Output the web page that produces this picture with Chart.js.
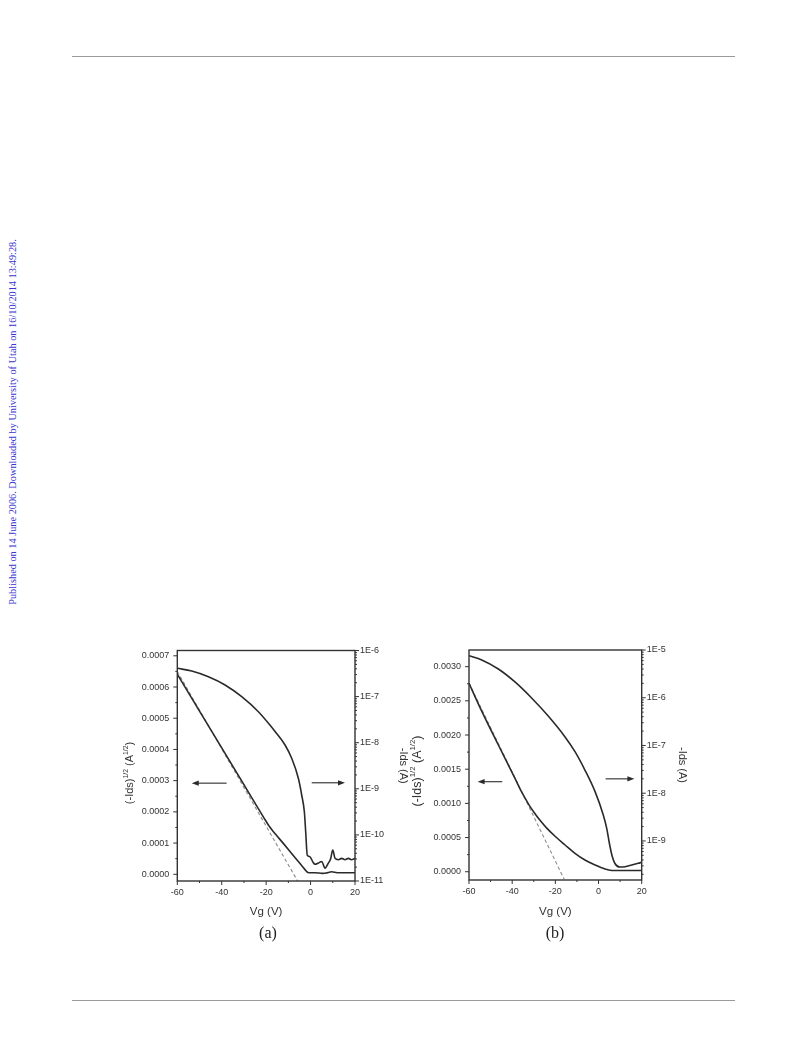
<!DOCTYPE html>
<html><head><meta charset="utf-8">
<script src="https://cdn.jsdelivr.net/npm/chart.js@4/dist/chart.umd.min.js"></script>
<style>
body{margin:0;width:793px;height:1039px;background:#fff;position:relative;overflow:hidden;font-family:'Liberation Sans',Arial,sans-serif}
.rule{position:absolute;left:72px;width:663px;height:1px;background:#9a9a9a}
.side{position:absolute;left:12px;top:422px;transform:translate(-50%,-50%) rotate(-90deg);white-space:nowrap;font-family:'Liberation Serif','Times New Roman',serif;font-size:10.3px;color:#3535cf}
.cap{position:absolute;transform:translate(-50%,-50%);font-family:'Liberation Serif','Times New Roman',serif;font-size:16px;color:#222;white-space:nowrap}
canvas{position:absolute}
</style></head><body>
<div class="rule" style="top:56px"></div>
<div class="rule" style="top:1000px"></div>
<div class="side">Published on 14 June 2006. Downloaded by University of Utah on 16/10/2014 13:49:28.</div>
<canvas id="cA" width="320" height="285" style="left:95px;top:640px"></canvas>
<canvas id="cB" width="300" height="285" style="left:400px;top:640px"></canvas>
<div class="cap" style="left:268px;top:933px">(a)</div>
<div class="cap" style="left:555px;top:933px">(b)</div>
<script>
// ---------- Chart (a) data ----------
const vgLowerA = [-60,-50,-40,-30,-24,-21,-19,-17,-15,-12,-9,-6,-3.5,-2,-1.2,0,2,4,5.6,7,9.5,12,15,18,20];
const sqrtIdsA = [0.000641,0.000523,0.000405,0.000287,0.000216,0.000181,0.000158,0.000139,0.000122,0.0000966,0.0000708,0.000045,0.0000235,0.0000106,0.000006,0.000005,0.000005,0.000004,0.000003,0.000004,0.000008,0.000005,0.000005,0.000005,0.000005];
const vgFitA = [-60,-5.5];
const fitA = [0.000650,-0.0000256];
const vgUpperA = [-60,-53.5,-46,-38.5,-31,-23.5,-18.3,-16,-11.5,-8.5,-5.5,-4,-2.8,-2.2,-1.5,-0.3,1,2,3.5,5,6.5,8,9,10,11,12.5,14,15.5,17,18.4,20];
const idsA = [4.11e-7,3.59e-7,2.70e-7,1.79e-7,9.96e-8,4.70e-8,2.42e-8,1.75e-8,8.91e-9,4.59e-9,1.69e-9,7.34e-10,3.18e-10,1.17e-10,3.66e-11,3.37e-11,2.6e-11,2.3e-11,2.45e-11,2.65e-11,1.9e-11,2.45e-11,3.0e-11,4.7e-11,3.1e-11,2.9e-11,3.1e-11,2.9e-11,3.1e-11,2.9e-11,3.1e-11];

// ---------- Chart (b) data ----------
const vgLowerB = [-60,-54,-46.4,-38.7,-36,-34.1,-32,-30,-27,-24,-20,-15.5,-10.9,-6.3,-1.6,3,6.1,8,10,15,20];
const sqrtIdsB = [0.002757,0.002342,0.001854,0.001367,0.00119,0.00108,0.000968,0.000875,0.000748,0.000638,0.000515,0.000391,0.000269,0.000171,0.000098,0.00004,0.000019,0.000018,0.000018,0.000018,0.000018];
const vgFitB = [-60,-15.9];
const fitB = [0.00276,-0.000111];
const vgUpperB = [-60,-54.1,-46.4,-38.7,-31,-23.3,-15.5,-10.9,-6.3,-1.6,2.2,3.8,5,6.3,7.6,9.9,12.3,15.4,18.4,20];
const idsB = [7.60e-6,6.18e-6,4.00e-6,2.14e-6,9.88e-7,4.14e-7,1.51e-7,7.41e-8,3.06e-8,1.08e-8,3.50e-9,1.84e-9,9.06e-10,4.84e-10,3.37e-10,2.85e-10,2.89e-10,3.13e-10,3.40e-10,3.57e-10];

// ---------- ticks ----------
const xTickValues = [-60,-40,-20,0,20];
const xTickLabels = ['-60','-40','-20','0','20'];
const xMinorTicks = [-50,-30,-10,10];
const leftTickValuesA = [0,0.0001,0.0002,0.0003,0.0004,0.0005,0.0006,0.0007];
const leftTickLabelsA = ['0.0000','0.0001','0.0002','0.0003','0.0004','0.0005','0.0006','0.0007'];
const rightTickValuesA = [1e-11,1e-10,1e-9,1e-8,1e-7,1e-6];
const rightTickLabelsA = ['1E-11','1E-10','1E-9','1E-8','1E-7','1E-6'];
const leftTickValuesB = [0,0.0005,0.001,0.0015,0.002,0.0025,0.003];
const leftTickLabelsB = ['0.0000','0.0005','0.0010','0.0015','0.0020','0.0025','0.0030'];
const rightTickValuesB = [1e-9,1e-8,1e-7,1e-6,1e-5];
const rightTickLabelsB = ['1E-9','1E-8','1E-7','1E-6','1E-5'];

// axis titles
const xTitle = 'Vg (V)';
const rightTitle = '-Ids (A)';
const leftTitleParts = [['(-Ids)',false],['1/2',true],[' (A',false],['1/2',true],[')',false]];

// arrows (data units): from x1 to x2 at y on given axis
const arrowsA = [{x1:-37.8,x2:-53.5,y:0.000292,axis:'y'},{x1:0.5,x2:15.5,y:1.35e-9,axis:'y2'}];
const arrowsB = [{x1:-44.6,x2:-56.0,y:0.001317,axis:'y'},{x1:3.3,x2:16.6,y:2.0e-8,axis:'y2'}];

const pts = (xs, ys) => xs.map((x,i)=>({x:x,y:ys[i]}));
const linMinors = (vals) => { const out=[]; for(let i=0;i<vals.length-1;i++) out.push((vals[i]+vals[i+1])/2); return out; };
const logMinors = (min,max) => { const out=[]; let d=Math.pow(10,Math.floor(Math.log10(min))); while(d<max*1.0001){ for(let k=2;k<=9;k++){const v=k*d; if(v>=min&&v<=max) out.push(v);} d*=10;} return out; };

const FONT = "'Liberation Sans', Arial, sans-serif";
Chart.defaults.font.family = FONT;
const INK = '#2a2a2a';

const decor = {
  id:'decor',
  afterDatasetsDraw(chart, args, o){
    const {ctx, chartArea:ca, scales} = chart;
    ctx.save();
    ctx.strokeStyle = '#333'; ctx.lineWidth = 1;
    const tick = (scale, vals, len) => {
      vals.forEach(v=>{
        const p = scale.getPixelForValue(v);
        ctx.beginPath();
        if (scale.axis === 'x') {
          if (p < ca.left-0.5 || p > ca.right+0.5) return;
          ctx.moveTo(p, ca.bottom); ctx.lineTo(p, ca.bottom+len);
        } else if (scale.position === 'left') {
          if (p < ca.top-0.5 || p > ca.bottom+0.5) return;
          ctx.moveTo(ca.left, p); ctx.lineTo(ca.left-len, p);
        } else {
          if (p < ca.top-0.5 || p > ca.bottom+0.5) return;
          ctx.moveTo(ca.right, p); ctx.lineTo(ca.right+len, p);
        }
        ctx.stroke();
      });
    };
    tick(scales.x, o.xMajor, 4); tick(scales.x, o.xMinor, 2);
    tick(scales.y, o.yMajor, 4); tick(scales.y, o.yMinor, 2);
    tick(scales.y2, o.y2Major, 4); tick(scales.y2, o.y2Minor, 2);
    ctx.lineWidth = 1.4; ctx.strokeStyle = '#333';
    ctx.strokeRect(ca.left, ca.top, ca.right-ca.left, ca.bottom-ca.top);
    // arrows
    ctx.strokeStyle = INK; ctx.fillStyle = INK; ctx.lineWidth = 1.1;
    o.arrows.forEach(a=>{
      const x1 = scales.x.getPixelForValue(a.x1), x2 = scales.x.getPixelForValue(a.x2);
      const y = scales[a.axis].getPixelForValue(a.y);
      const dir = Math.sign(x2-x1);
      ctx.beginPath(); ctx.moveTo(x1,y); ctx.lineTo(x2-dir*5,y); ctx.stroke();
      ctx.beginPath(); ctx.moveTo(x2,y); ctx.lineTo(x2-dir*7,y-2.6); ctx.lineTo(x2-dir*7,y+2.6); ctx.closePath(); ctx.fill();
    });
    // left axis title with superscripts
    const lt = o.leftTitle;
    const big = lt.size + 'px ' + FONT, small = Math.round(lt.size*0.62*10)/10 + 'px ' + FONT;
    let total = 0;
    leftTitleParts.forEach(([t,sup])=>{ ctx.font = sup?small:big; total += ctx.measureText(t).width; });
    ctx.translate(lt.x, lt.y); ctx.rotate(-Math.PI/2);
    ctx.fillStyle = '#333'; ctx.textBaseline = 'middle'; ctx.textAlign = 'left';
    let cx = -total/2;
    leftTitleParts.forEach(([t,sup])=>{
      ctx.font = sup?small:big;
      ctx.fillText(t, cx, sup ? -lt.size*0.38 : 0);
      cx += ctx.measureText(t).width;
    });
    ctx.restore();
  }
};

function build(id, c){
  const tickFont = {family:FONT, size:9};
  const gridOpts = {display:true, drawOnChartArea:false, drawTicks:true, tickLength:4, color:'rgba(0,0,0,0)'};
  new Chart(document.getElementById(id), {
    type:'line',
    data:{datasets:[
      {data:pts(c.vgL, c.sq), yAxisID:'y', borderColor:INK, borderWidth:1.6, pointRadius:0, cubicInterpolationMode:'monotone', fill:false},
      {data:pts(c.vgF, c.fit), yAxisID:'y', borderColor:'#8a8a8a', borderWidth:1.1, borderDash:[3.5,2.5], pointRadius:0, fill:false},
      {data:pts(c.vgU, c.ids), yAxisID:'y2', borderColor:INK, borderWidth:1.6, pointRadius:0, cubicInterpolationMode:'monotone', fill:false}
    ]},
    options:{
      responsive:false, animation:false, events:[],
      layout:{padding:{top:c.padTop, left:0, right:0, bottom:0}},
      plugins:{legend:{display:false}, tooltip:{enabled:false},
        decor:{xMajor:xTickValues, xMinor:xMinorTicks, yMajor:c.lv, yMinor:linMinors(c.lv), y2Major:c.rv, y2Minor:logMinors(c.y2min, c.y2max), arrows:c.arrows, leftTitle:c.leftTitle}},
      scales:{
        x:{type:'linear', position:'bottom', min:-60, max:20,
          afterBuildTicks:s=>{s.ticks = xTickValues.map(v=>({value:v}));},
          afterFit:s=>{s.height = c.xH;},
          ticks:{callback:(v,i)=>xTickLabels[i], font:tickFont, color:'#333', padding:2, maxRotation:0, autoSkip:false},
          grid:gridOpts, border:{display:false},
          title:{display:true, text:xTitle, color:'#333', font:{family:FONT, size:11.5}, padding:{top:0, bottom:6}}},
        y:{type:'linear', position:'left', min:c.ymin, max:c.ymax,
          afterBuildTicks:s=>{s.ticks = c.lv.map(v=>({value:v}));},
          afterFit:s=>{s.width = c.yW;},
          ticks:{callback:(v,i)=>c.ll[i], font:tickFont, color:'#333', padding:4, autoSkip:false},
          grid:gridOpts, border:{display:false}},
        y2:{type:'logarithmic', position:'right', min:c.y2min, max:c.y2max,
          afterBuildTicks:s=>{s.ticks = c.rv.map(v=>({value:v}));},
          afterFit:s=>{s.width = c.y2W;},
          ticks:{callback:(v,i)=>c.rl[i], font:tickFont, color:'#333', padding:1, autoSkip:false},
          grid:gridOpts, border:{display:false},
          title:{display:true, text:rightTitle, color:'#333', font:{family:FONT, size:c.rtSize}, padding:{top:c.rtPad, bottom:0}}}
      }
    },
    plugins:[decor]
  });
}

build('cA', {vgL:vgLowerA, sq:sqrtIdsA, vgF:vgFitA, fit:fitA, vgU:vgUpperA, ids:idsA,
  lv:leftTickValuesA, ll:leftTickLabelsA, rv:rightTickValuesA, rl:rightTickLabelsA,
  ymin:-0.0000215, ymax:0.000717, y2min:1e-11, y2max:1e-6, arrows:arrowsA,
  leftTitle:{x:35, y:133, size:11},
  padTop:10.5, yW:82.3, y2W:60, xH:44, rtSize:11, rtPad:5.4});
build('cB', {vgL:vgLowerB, sq:sqrtIdsB, vgF:vgFitB, fit:fitB, vgU:vgUpperB, ids:idsB,
  lv:leftTickValuesB, ll:leftTickLabelsB, rv:rightTickValuesB, rl:rightTickLabelsB,
  ymin:-0.000121, ymax:0.003244, y2min:1.52e-10, y2max:1e-5, arrows:arrowsB,
  leftTitle:{x:18, y:131, size:12.5},
  padTop:10, yW:69, y2W:58.3, xH:45, rtSize:11, rtPad:11.4});
</script>
</body></html>
